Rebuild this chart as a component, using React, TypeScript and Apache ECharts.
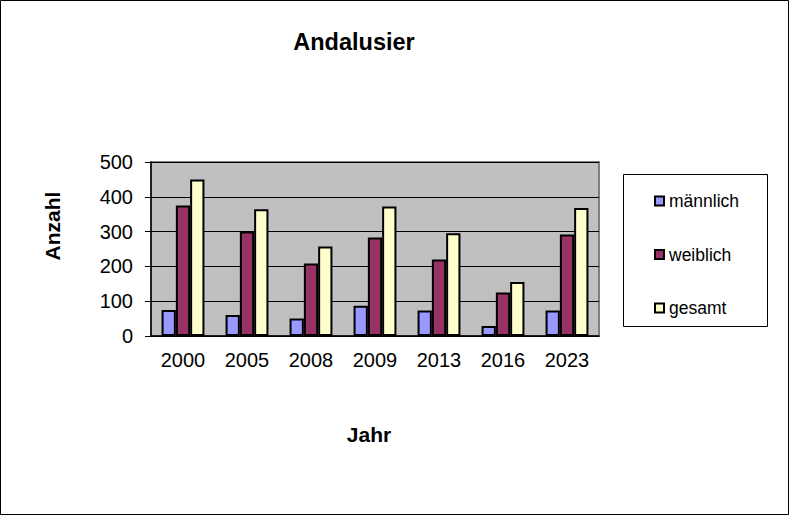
import { useEffect, useRef } from 'react';
import * as echarts from 'echarts';

const years = ['2000', '2005', '2008', '2009', '2013', '2016', '2023'];
const maennlich = [75, 60, 50, 87, 73, 29, 73];
const weiblich = [375, 300, 208, 283, 220, 125, 292];
const gesamt = [450, 364, 257, 372, 295, 155, 368];

const FONT = '"Liberation Sans", Arial, sans-serif';

export default function App() {
  const ref = useRef<HTMLDivElement>(null);

  useEffect(() => {
    document.body.style.margin = '0';
    if (!ref.current) return;
    const chart = echarts.init(ref.current, undefined, { renderer: 'svg' });
    const bar = (name: string, data: number[], color: string) => ({
      name,
      type: 'bar' as const,
      data,
      barGap: '0%',
      barCategoryGap: '33%',
      itemStyle: { color, borderColor: '#000', borderWidth: 2 },
    });
    chart.setOption({
      animation: false,
      backgroundColor: '#fff',
      textStyle: { fontFamily: FONT, color: '#000' },
      title: {
        text: 'Andalusier',
        left: 354,
        top: 30,
        padding: 0,
        textAlign: 'center',
        textStyle: { fontFamily: FONT, fontSize: 23.5, fontWeight: 'bold', color: '#000' },
      },
      grid: {
        left: 151,
        top: 162,
        width: 448,
        height: 174,
        show: true,
        backgroundColor: '#c0c0c0',
        borderColor: '#808080',
        borderWidth: 2,
      },
      legend: {
        orient: 'vertical',
        left: 654,
        top: 192,
        padding: 0,
        itemWidth: 9,
        itemHeight: 9,
        itemGap: 35.5,
        icon: 'rect',
        textStyle: { fontFamily: FONT, fontSize: 17.5, lineHeight: 18, color: '#000' },
        data: ['männlich', 'weiblich', 'gesamt'],
      },
      xAxis: {
        type: 'category',
        data: years,
        axisLine: { lineStyle: { color: '#000', width: 1.5 } },
        axisTick: { length: 6, lineStyle: { color: '#000' } },
        axisLabel: { fontFamily: FONT, fontSize: 20, color: '#000', margin: 14 },
      },
      yAxis: {
        type: 'value',
        min: 0,
        max: 500,
        interval: 100,
        axisLine: { show: true, lineStyle: { color: '#000', width: 1.5 } },
        axisTick: { show: true, length: 6, lineStyle: { color: '#000' } },
        axisLabel: { fontFamily: FONT, fontSize: 20, color: '#000', margin: 18 },
        splitLine: { lineStyle: { color: '#000', width: 1 } },
      },
      graphic: [
        {
          type: 'rect',
          shape: { x: 0.5, y: 0.5, width: 788, height: 514 },
          style: { fill: 'none', stroke: '#000', lineWidth: 1 },
          z: 100,
        },
        {
          type: 'rect',
          shape: { x: 623.5, y: 174.5, width: 144, height: 152 },
          style: { fill: '#fff', stroke: '#000', lineWidth: 1 },
          z: -1,
        },
        {
          type: 'text',
          x: 52,
          y: 226,
          rotation: Math.PI / 2,
          style: {
            text: 'Anzahl',
            fontFamily: FONT,
            fontSize: 21,
            fontWeight: 'bold',
            fill: '#000',
            textAlign: 'center',
            textVerticalAlign: 'middle',
          },
        },
        {
          type: 'text',
          x: 369,
          y: 434,
          style: {
            text: 'Jahr',
            fontFamily: FONT,
            fontSize: 21,
            fontWeight: 'bold',
            fill: '#000',
            textAlign: 'center',
            textVerticalAlign: 'middle',
          },
        },
      ],
      series: [
        bar('männlich', maennlich, '#9999ff'),
        bar('weiblich', weiblich, '#993366'),
        bar('gesamt', gesamt, '#ffffcc'),
      ],
    });
    return () => chart.dispose();
  }, []);

  return <div ref={ref} style={{ width: 789, height: 515 }} />;
}
